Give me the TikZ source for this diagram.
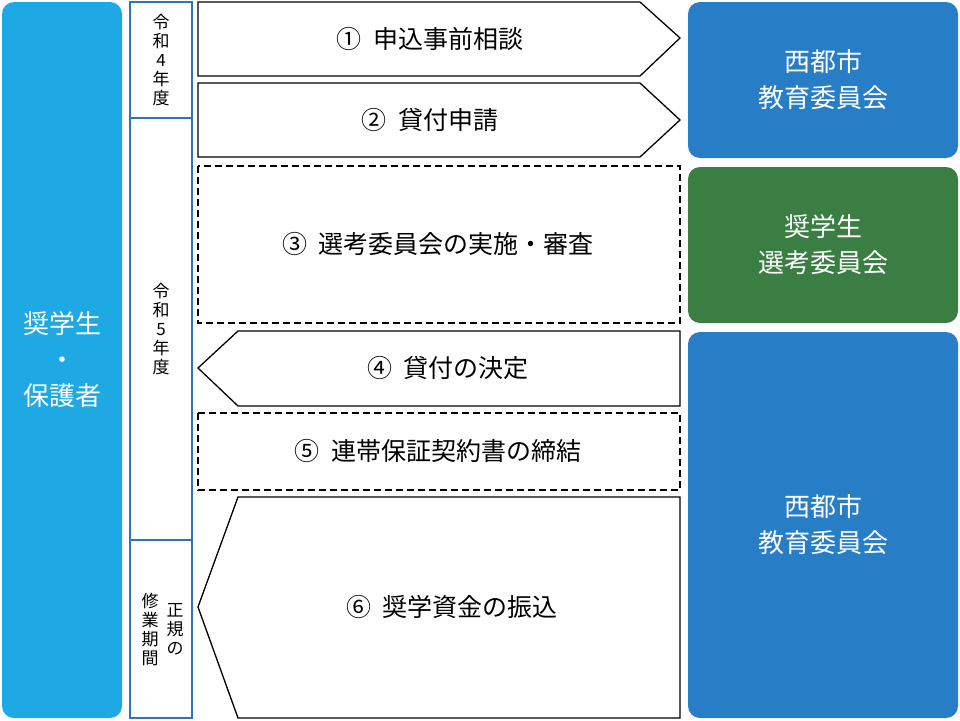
\documentclass[tikz,border=0pt]{standalone}
\usepackage{fontspec}
\setmainfont{Noto Sans CJK JP}
\begin{document}
\begin{tikzpicture}[x=1pt,y=-1pt,
  big/.style={rounded corners=12pt,draw=none,text=white,font=\fontsize{26}{36}\selectfont,align=center},
  yr/.style={draw=yrblue,line width=2pt,fill=white},
  yrt/.style={font=\fontsize{17}{19}\selectfont,align=center},
  flow/.style={draw=black,line width=1.3pt,fill=white},
  dflow/.style={draw=black,line width=1.3pt,dash pattern=on 7pt off 4pt,fill=white},
  lab/.style={font=\fontsize{25}{30}\selectfont}]
\definecolor{cyanb}{RGB}{30,168,228}
\definecolor{blueb}{RGB}{40,126,198}
\definecolor{greenb}{RGB}{58,126,68}
\definecolor{yrblue}{RGB}{46,117,182}
\useasboundingbox (0,0) rectangle (960,720);
\fill[cyanb,rounded corners=12pt] (2,2) rectangle (122,718);
\node[big] (stu) at (62,360) {奨学生\\・\\保護者};
\draw[yr] (130,2) rectangle (192,118);
\draw[yr] (130,118) rectangle (192,540);
\draw[yr] (130,540) rectangle (192,718);
\node[yrt] (y4) at (161,60) {令\\和\\4\\年\\度};
\node[yrt] (y5) at (161,329) {令\\和\\5\\年\\度};
\node[yrt] (y6a) at (150,630) {修\\業\\期\\間};
\node[yrt,anchor=north] (y6b) at (175,600) {正\\規\\の};
\draw[flow] (198,2) -- (640,2) -- (680,38) -- (640,76) -- (198,76) -- cycle;
\node[lab] (s1) at (430,39) {①\ \ 申込事前相談};
\draw[flow] (198,83) -- (640,83) -- (680,120) -- (640,157) -- (198,157) -- cycle;
\node[lab] (s2) at (430,120) {②\ \ 貸付申請};
\draw[dflow] (198,166) rectangle (680,323);
\node[lab] (s3) at (438,244) {③\ \ 選考委員会の実施・審査};
\draw[flow] (238,331) -- (680,331) -- (680,406) -- (238,406) -- (198,368) -- cycle;
\node[lab] (s4) at (448,368) {④\ \ 貸付の決定};
\draw[dflow] (198,413) rectangle (680,490);
\node[lab] (s5) at (438,451) {⑤\ \ 連帯保証契約書の締結};
\draw[flow] (238,497) -- (680,497) -- (680,718) -- (238,718) -- (198,607) -- cycle;
\node[lab] (s6) at (452,607) {⑥\ \ 奨学資金の振込};
\fill[blueb,rounded corners=12pt] (688,2) rectangle (958,158);
\node[big] (b1) at (823,80) {西都市\\教育委員会};
\fill[greenb,rounded corners=12pt] (688,167) rectangle (958,323);
\node[big] (b2) at (823,245) {奨学生\\選考委員会};
\fill[blueb,rounded corners=12pt] (688,332) rectangle (958,718);
\node[big] (b3) at (823,525) {西都市\\教育委員会};
\end{tikzpicture}
\end{document}
